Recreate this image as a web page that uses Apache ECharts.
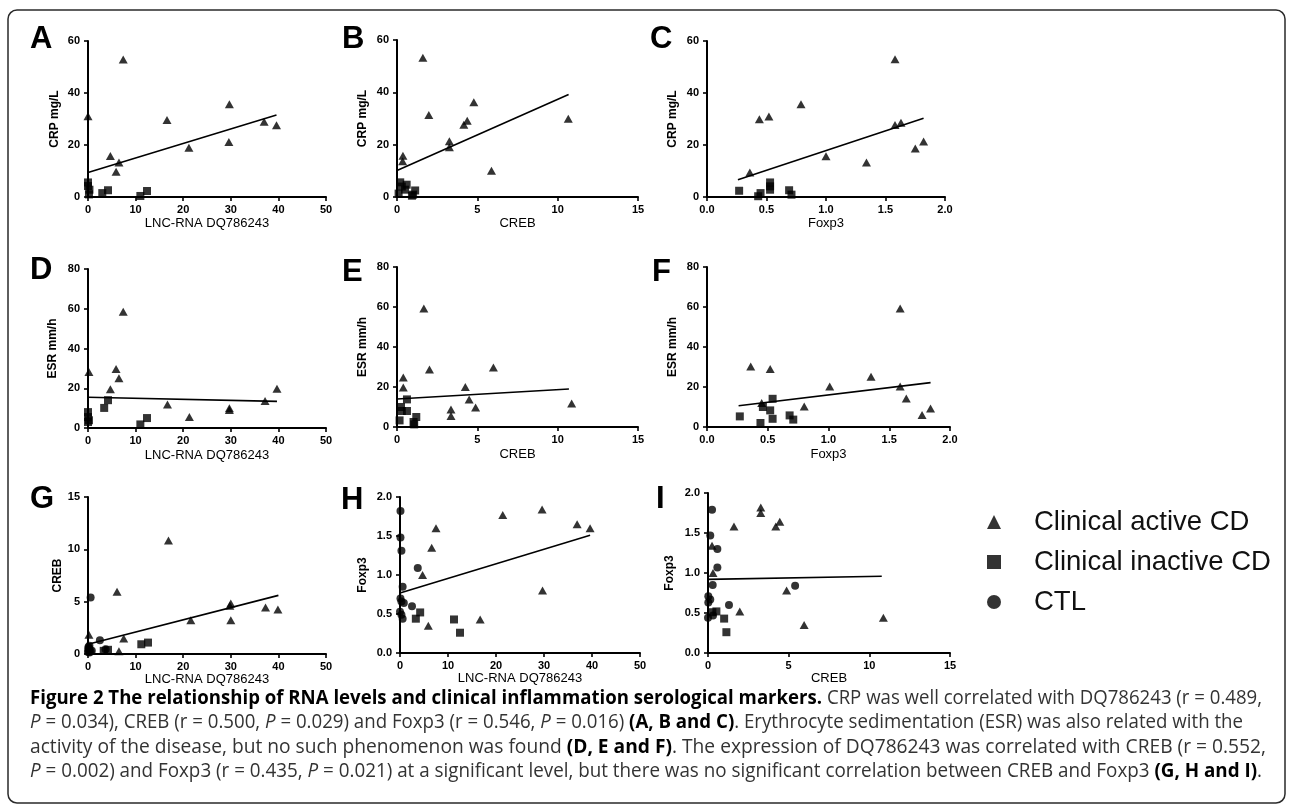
<!DOCTYPE html>
<html><head><meta charset="utf-8">
<script src="https://cdn.jsdelivr.net/npm/echarts@6/dist/echarts.min.js"></script>
<style>html,body{margin:0;padding:0;background:#fff}#c{width:1292px;height:811px}</style>
</head><body><div id="c"></div>
<script>
// ---------------- DATA ----------------
const A_active = [[0,31.1],[7.4,52.9],[4.7,15.8],[6.5,13.3],[5.9,9.7],[16.6,29.6],[21.2,18.9],[29.7,35.7],[29.6,21.2],[37.0,28.9],[39.6,27.6]];
const A_inactive = [[0,5.6],[0,4.2],[0.3,2.8],[0.2,1.0],[3.0,1.5],[4.2,2.6],[11.0,0.4],[12.4,2.3]];
const A_fit = [[0,9.4],[39.6,31.5]];

const B_active = [[1.61,53.2],[1.98,31.3],[0.37,15.8],[0.35,13.7],[3.26,21.3],[3.26,19.0],[4.16,27.6],[4.37,29.1],[4.78,36.2],[5.88,10.0],[10.66,29.9]];
const B_inactive = [[0.2,5.6],[0.3,4.0],[0.5,2.8],[0.6,4.7],[0.1,1.3],[0.93,0.5],[1.13,2.5],[1.0,0.9]];
const B_fit = [[0,10.1],[10.68,39.2]];

const C_active = [[0.36,9.4],[0.44,29.9],[0.52,31.0],[0.79,35.7],[1.0,15.7],[1.34,13.3],[1.58,53.0],[1.58,27.7],[1.63,28.6],[1.75,18.7],[1.82,21.3]];
const C_inactive = [[0.27,2.4],[0.43,0.3],[0.45,1.5],[0.53,4.1],[0.53,5.6],[0.53,2.8],[0.69,2.6],[0.71,0.9]];
const C_fit = [[0.26,6.6],[1.82,30.3]];

const D_active = [[0.2,28.2],[7.4,58.5],[5.9,29.7],[6.5,25.0],[4.7,19.5],[16.7,11.8],[21.3,5.5],[29.7,9.9],[29.7,9.0],[37.2,13.6],[39.7,19.7]];
const D_inactive = [[0,8],[0,5.5],[0.2,3.9],[0,3],[3.4,10.1],[4.2,14],[11,1.8],[12.4,5]];
const D_fit = [[0,15.5],[39.7,13.4]];

const E_active = [[1.67,59.2],[2.02,28.8],[0.39,24.7],[0.39,19.8],[3.36,8.8],[3.36,5.5],[4.25,20],[4.49,13.8],[4.89,9.8],[6.0,29.8],[10.87,11.7]];
const E_inactive = [[0.62,13.8],[0.25,10],[0.3,8],[0.62,8],[0.16,3.3],[1.2,5],[1.07,1.3],[1.03,2.5]];
const E_fit = [[0,14],[10.7,19]];

const F_active = [[0.36,30.2],[0.45,12],[0.52,29],[0.80,10.3],[1.01,20.3],[1.35,25.1],[1.59,59.2],[1.59,20.2],[1.64,14.3],[1.77,6],[1.84,9.3]];
const F_inactive = [[0.27,5.3],[0.44,2],[0.54,14.1],[0.52,8.3],[0.54,4.1],[0.68,5.8],[0.71,3.7],[0.46,10]];
const F_fit = [[0.26,10.6],[1.84,22.2]];

const G_active = [[16.9,10.85],[6.1,5.94],[0.2,1.85],[7.5,1.47],[6.5,0.26],[21.6,3.23],[30.0,4.82],[29.8,4.6],[30.0,3.23],[37.3,4.44],[39.9,4.25]];
const G_inactive = [[11.2,0.93],[12.6,1.09],[3.3,0.3],[4.2,0.4]];
const G_ctl = [[0.55,5.4],[2.5,1.31],[0.1,0.67],[0.1,0.35],[0.3,0.5],[3.7,0.45],[0.8,0.3],[0.0,0.2],[0.3,0.15],[0.1,0.55],[0.55,0.25],[0.3,0.8]];
const G_fit = [[0,0.93],[40,5.6]];

const H_active = [[7.5,1.60],[6.6,1.35],[4.7,1.0],[5.9,0.35],[16.7,0.43],[21.4,1.77],[29.6,1.84],[29.7,0.80],[36.9,1.65],[39.6,1.60]];
const H_inactive = [[3.3,0.44],[4.2,0.52],[11.25,0.43],[12.5,0.26]];
const H_ctl = [[0.1,1.82],[0.1,1.48],[0.3,1.31],[3.7,1.09],[0.55,0.85],[0.1,0.70],[0.3,0.66],[0.8,0.64],[2.5,0.60],[0,0.53],[0.3,0.49],[0.55,0.44]];
const H_fit = [[0,0.77],[39.6,1.51]];

const I_active = [[1.61,1.58],[3.27,1.82],[3.27,1.75],[4.2,1.58],[4.45,1.64],[0.25,1.34],[0.31,1.0],[1.97,0.52],[4.87,0.78],[5.96,0.35],[10.87,0.44]];
const I_inactive = [[0.52,0.52],[0.27,0.51],[1.0,0.43],[1.14,0.26]];
const I_ctl = [[0.25,1.79],[0.14,1.47],[0.58,1.30],[0.58,1.07],[0.29,0.85],[0.02,0.71],[0.14,0.67],[0.02,0.63],[1.3,0.60],[5.4,0.84],[0,0.44],[0.31,0.47]];
const I_fit = [[0,0.92],[10.77,0.96]];

const seriesNames = ['Clinical active CD','Clinical inactive CD','CTL'];
const xTitles = {lnc:'LNC-RNA DQ786243', creb:'CREB', foxp3:'Foxp3'};
const yTitles = {crp:'CRP mg/L', esr:'ESR mm/h', creb:'CREB', foxp3:'Foxp3'};
const xScales = {lnc:{max:50,interval:10,dec:0}, creb:{max:15,interval:5,dec:0}, foxp3:{max:2,interval:0.5,dec:1}};
const yScales = {crp:{max:60,interval:20,dec:0}, esr:{max:80,interval:20,dec:0}, creb:{max:15,interval:5,dec:0}, foxp3:{max:2,interval:0.5,dec:1}};

const captionLines = [
  [['b','Figure 2 The relationship of RNA levels and clinical inflammation serological markers.'],['n',' CRP was well correlated with DQ786243 (r = 0.489,']],
  [['i','P'],['n',' = 0.034), CREB (r = 0.500, '],['i','P'],['n',' = 0.029) and Foxp3 (r = 0.546, '],['i','P'],['n',' = 0.016) '],['b','(A, B and C)'],['n','. Erythrocyte sedimentation (ESR) was also related with the']],
  [['n','activity of the disease, but no such phenomenon was found '],['b','(D, E and F)'],['n','. The expression of DQ786243 was correlated with CREB (r = 0.552,']],
  [['i','P'],['n',' = 0.002) and Foxp3 (r = 0.435, '],['i','P'],['n',' = 0.021) at a significant level, but there was no significant correlation between CREB and Foxp3 '],['b','(G, H and I)'],['n','.']]
];

// ---------------- LAYOUT ----------------
const FONT = '"Liberation Sans", Arial, Helvetica, sans-serif';
const CAPFONT = '"Open Sans", "Noto Sans", sans-serif';
const panels = [
  {id:'A', x:'lnc', y:'crp', act:A_active, ina:A_inactive, ctl:null, fit:A_fit, box:[88,41,238,156], lx:30, ly:39, yGap:27, xGap:20},
  {id:'B', x:'creb', y:'crp', act:B_active, ina:B_inactive, ctl:null, fit:B_fit, box:[397,40,241,157], lx:342, ly:39, yGap:28, xGap:20},
  {id:'C', x:'foxp3', y:'crp', act:C_active, ina:C_inactive, ctl:null, fit:C_fit, box:[707,41,238,156], lx:650, ly:39.5, yGap:28, xGap:20},
  {id:'D', x:'lnc', y:'esr', act:D_active, ina:D_inactive, ctl:null, fit:D_fit, box:[88,269,238,159], lx:30, ly:270.5, yGap:29, xGap:21},
  {id:'E', x:'creb', y:'esr', act:E_active, ina:E_inactive, ctl:null, fit:E_fit, box:[397,267,241,160], lx:342, ly:272, yGap:28, xGap:21},
  {id:'F', x:'foxp3', y:'esr', act:F_active, ina:F_inactive, ctl:null, fit:F_fit, box:[707,267,243,160], lx:652, ly:272, yGap:28, xGap:21},
  {id:'G', x:'lnc', y:'creb', act:G_active, ina:G_inactive, ctl:G_ctl, fit:G_fit, box:[88,497,238,157], lx:30, ly:499, yGap:24, xGap:17},
  {id:'H', x:'lnc', y:'foxp3', act:H_active, ina:H_inactive, ctl:H_ctl, fit:H_fit, box:[400,497,240,156], lx:341, ly:500.5, yGap:31, xGap:17},
  {id:'I', x:'creb', y:'foxp3', act:I_active, ina:I_inactive, ctl:I_ctl, fit:I_fit, box:[708,493,242,160], lx:656, ly:499.5, yGap:32, xGap:17}
];

const grids = [], xAxes = [], yAxes = [], series = [], graphics = [];
const axisCommon = {
  axisLine:{show:true, onZero:false, lineStyle:{color:'#000', width:2}},
  axisTick:{show:true, length:4, inside:false, lineStyle:{color:'#000', width:1.6}},
  splitLine:{show:false}
};
panels.forEach((p, i) => {
  const [l,t,w,h] = p.box;
  grids.push({left:l, top:t, width:w, height:h, containLabel:false, outerBoundsMode:'none'});
  const xs = xScales[p.x], ys = yScales[p.y];
  xAxes.push(Object.assign({}, axisCommon, {
    type:'value', gridIndex:i, min:0, max:xs.max, interval:xs.interval,
    name:xTitles[p.x], nameLocation:'middle', nameGap:p.xGap,
    nameTextStyle:{fontFamily:FONT, fontSize:13, color:'#000', fontWeight:'normal'},
    axisLabel:{fontFamily:FONT, fontSize:11, fontWeight:'bold', color:'#000', margin:7,
      formatter:v => v.toFixed(xs.dec)}
  }));
  yAxes.push(Object.assign({}, axisCommon, {
    type:'value', gridIndex:i, min:0, max:ys.max, interval:ys.interval,
    name:yTitles[p.y], nameLocation:'middle', nameGap:p.yGap, nameRotate:90,
    nameTextStyle:{fontFamily:FONT, fontSize:12, color:'#000', fontWeight:'bold'},
    axisLabel:{fontFamily:FONT, fontSize:11, fontWeight:'bold', color:'#000', margin:8,
      formatter:v => v.toFixed(ys.dec)}
  }));
  series.push({type:'line', name:'fit'+p.id, xAxisIndex:i, yAxisIndex:i, data:p.fit, symbol:'none',
    lineStyle:{color:'#000', width:1.6}, silent:true, z:1, clip:false, animation:false});
  series.push({type:'scatter', name:seriesNames[0], xAxisIndex:i, yAxisIndex:i, data:p.act,
    symbol:'triangle', symbolSize:[9,8], itemStyle:{color:'#000'}, clip:false, z:3, animation:false});
  series.push({type:'scatter', name:seriesNames[1], xAxisIndex:i, yAxisIndex:i, data:p.ina,
    symbol:'rect', symbolSize:8, itemStyle:{color:'#000'}, clip:false, z:3, animation:false});
  if (p.ctl) series.push({type:'scatter', name:seriesNames[2], xAxisIndex:i, yAxisIndex:i, data:p.ctl,
    symbol:'circle', symbolSize:8, itemStyle:{color:'#000'}, clip:false, z:3, animation:false});
  graphics.push({type:'text', x:p.lx, y:p.ly, style:{text:p.id, fill:'#000',
    font:'bold 31px ' + FONT, align:'left', verticalAlign:'middle', textAlign:'left', textVerticalAlign:'middle'}});
});

// frame
graphics.unshift({type:'rect', shape:{x:8, y:10, width:1277, height:793, r:9},
  style:{fill:'none', stroke:'#2a2a2a', lineWidth:1.5}, z:0});

// caption
const cv = document.createElement('canvas').getContext('2d');
const CAPSIZE = 19.5;
const capStyles = {
  b:{w:'bold', s:'normal', c:'#000'},
  n:{w:'normal', s:'normal', c:'#333'},
  i:{w:'normal', s:'italic', c:'#333'}
};
const capRight = [1262, 1243, 1266, 1262];
const capY = [698, 722.5, 747, 771.5];
captionLines.forEach((segs, k) => {
  let width = 0;
  segs.forEach(([key, txt]) => {
    const st = capStyles[key];
    cv.font = `${st.s} ${st.w} ${CAPSIZE}px ${CAPFONT}`;
    width += cv.measureText(txt).width;
  });
  const sx = (capRight[k] - 30) / width;
  const rich = {};
  Object.keys(capStyles).forEach(key => {
    const st = capStyles[key];
    rich[key] = {fontFamily:CAPFONT, fontSize:CAPSIZE, fontWeight:st.w, fontStyle:st.s, fill:st.c, color:st.c};
  });
  graphics.push({type:'text', x:30, y:capY[k], scaleX:sx, originX:0, originY:0,
    style:{text:segs.map(([key, txt]) => '{' + key + '|' + txt + '}').join(''), rich:rich,
      font:`${CAPSIZE}px ${CAPFONT}`, fill:'#333',
      align:'left', verticalAlign:'middle', textAlign:'left', textVerticalAlign:'middle'}});
});

const chart = echarts.init(document.getElementById('c'), null, {renderer:'canvas'});
chart.setOption({
  animation:false,
  backgroundColor:'#fff',
  grid:grids, xAxis:xAxes, yAxis:yAxes, series:series,
  legend:{
    data:[{name:seriesNames[0], icon:'triangle'},{name:seriesNames[1], icon:'rect'},{name:seriesNames[2], icon:'circle'}],
    orient:'vertical', left:982, top:503, itemWidth:14, itemHeight:14, itemGap:12, selectedMode:false,
    textStyle:{fontFamily:FONT, fontSize:27.5, color:'#111', lineHeight:28, padding:[0,0,0,28]}
  },
  graphic:graphics
});
</script>
</body></html>
